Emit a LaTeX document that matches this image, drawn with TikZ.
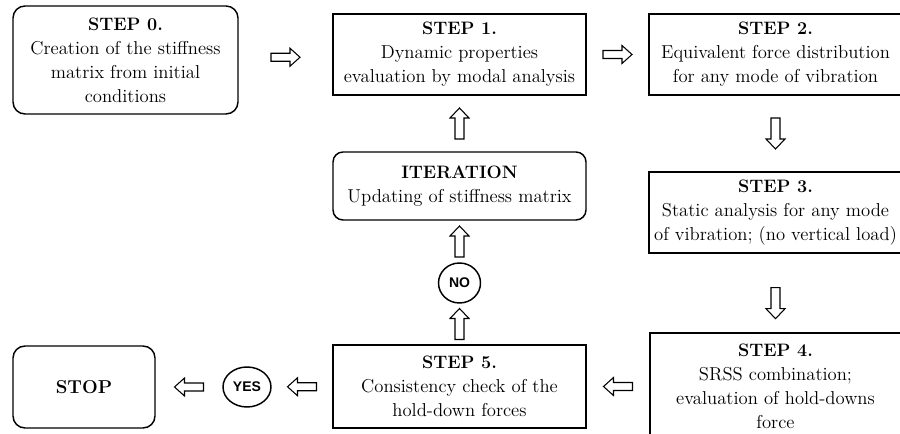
\documentclass[tikz,border=0pt]{standalone}
\usepackage{fontspec}
\newfontfamily\answerfont{Liberation Sans}
\usetikzlibrary{shapes.geometric,calc}
\newcommand\steptitle[1]{{\fontsize{13.5}{18}\selectfont\bfseries #1}}
\begin{document}
\begin{tikzpicture}[x=0.75pt,y=-0.75pt,
  box/.style={draw,line width=1.1pt,align=center,inner sep=0pt,
    font=\fontsize{14}{18}\selectfont},
  stepbox/.style={box,minimum width=189.75pt,minimum height=60.75pt},
  roundbox/.style={box,rounded corners=9pt},
  decision/.style={draw,line width=1.1pt,ellipse,inner sep=0pt,
    font=\answerfont\bfseries\fontsize{10.5}{12}\selectfont},
  % hollow block arrow, pointing right before rotation
  flowarrow/.pic={
    \draw[line width=0.8pt,line join=miter]
      (-14.5,-4) -- (4.5,-4) -- (4.5,-9) -- (14.5,0) -- (4.5,9) -- (4.5,4)
      -- (-14.5,4) -- cycle;},
  upflow/.pic={
    \draw[line width=0.8pt,line join=miter]
      (-4.5,15.5) -- (-4.5,-5.5) -- (-9.5,-5.5) -- (0,-15.5) -- (9.5,-5.5)
      -- (4.5,-5.5) -- (4.5,15.5) -- cycle;}
]
\useasboundingbox (0,0) rectangle (900,434);
\clip (0,0) rectangle (900,434);

% process boxes
\node[roundbox,minimum width=168.75pt,minimum height=81pt] (s0) at (125.5,60)
  {\steptitle{STEP 0.}\\Creation of the stiffness\\matrix from initial\\conditions};
\node[stepbox] (s1) at (459.5,54.5)
  {\steptitle{STEP 1.}\\Dynamic properties\\evaluation by modal analysis};
\node[stepbox] (s2) at (775.5,54.5)
  {\steptitle{STEP 2.}\\Equivalent force distribution\\for any mode of vibration};
\node[stepbox] (s3) at (775.5,212.5)
  {\steptitle{STEP 3.}\\Static analysis for any mode\\of vibration; (no vertical load)};
\node[stepbox,minimum width=188.25pt,minimum height=80.25pt] (s4) at (775.5,386.5)
  {\steptitle{STEP 4.}\\SRSS combination;\\evaluation of hold-downs\\force};
\node[stepbox,minimum height=62.25pt] (s5) at (459.5,386.5)
  {\steptitle{STEP 5.}\\Consistency check of the\\hold-down forces};
\node[roundbox,minimum width=189.75pt,minimum height=51pt,rounded corners=7.5pt] (it) at (459.5,186)
  {\steptitle{ITERATION}\\Updating of stiffness matrix};
\node[roundbox,minimum width=106.5pt,minimum height=61.5pt] (stop) at (84,387)
  {\bfseries STOP};

% decisions
\node[decision,minimum width=36pt,minimum height=30pt] (yes) at (247,387) {YES};
\node[decision,minimum width=31.5pt,minimum height=30pt] (no) at (459.5,283) {NO};

% flow arrows between the blocks
\coordinate (a01) at ($(s0.east)!0.5!(s1.west)$);
\coordinate (a12) at ($(s1.east)!0.5!(s2.west)$);
\coordinate (a23) at ($(s2.south)!0.5!(s3.north)$);
\coordinate (a34) at ($(s3.south)!0.63!(s4.north)$);
\coordinate (a45) at ($(s5.east)!0.5!(s4.west)$);
\coordinate (a5n) at ($(no.south)!0.5!(s5.north)$);
\coordinate (ani) at ($(it.south)!0.5!(no.north)$);
\coordinate (ai1) at ($(s1.south)!0.5!(it.north)$);
\coordinate (a5y) at ($(yes.east)!0.5!(s5.west)$);
\coordinate (ays) at ($(stop.east)!0.5!(yes.west)$);

\pic at (a01) {flowarrow};
\pic at (a12) {flowarrow};
\pic[rotate=180] at (a45) {flowarrow};
\pic[rotate=180] at (a5y) {flowarrow};
\pic[rotate=180] at (ays) {flowarrow};
\pic at (a5n) {upflow};
\pic at (ani) {upflow};
\pic at (ai1) {upflow};
\pic[rotate=180] at (a23) {upflow};
\pic[rotate=180] at (a34) {upflow};
\end{tikzpicture}
\end{document}
